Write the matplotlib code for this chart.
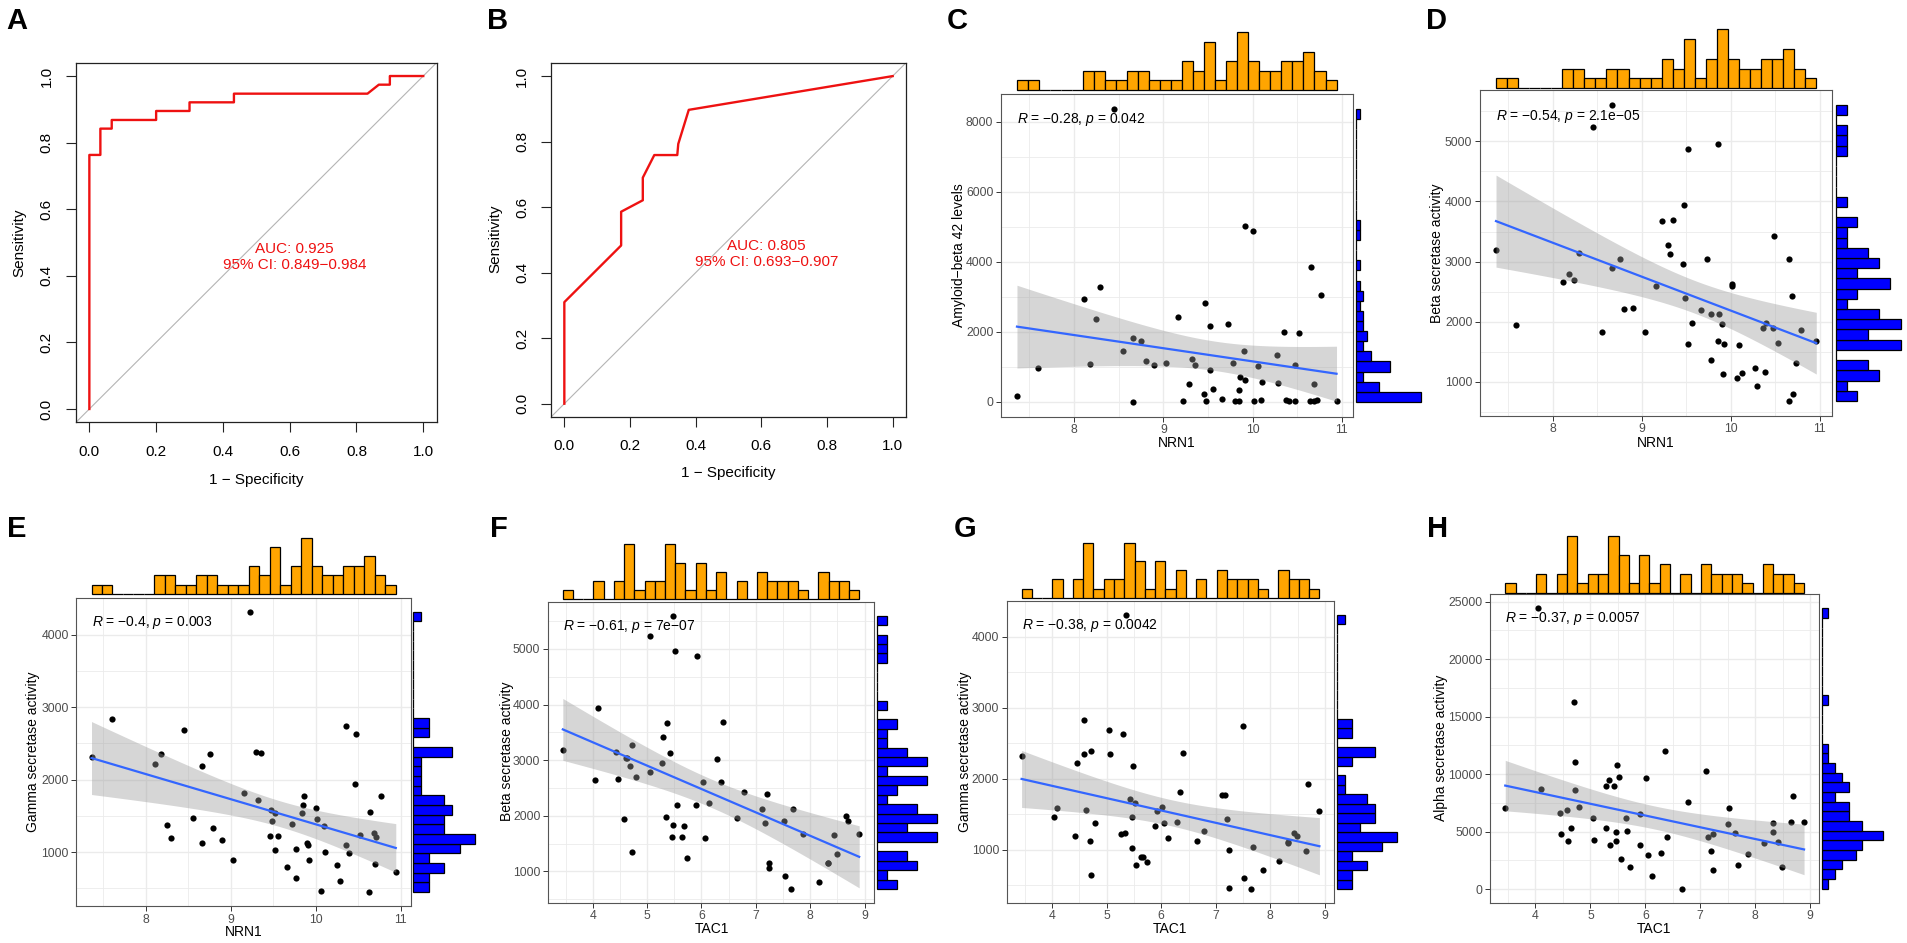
import numpy as np
import matplotlib
matplotlib.use("Agg")
import matplotlib.pyplot as plt
from matplotlib.ticker import MultipleLocator
from matplotlib.transforms import blended_transform_factory

plt.rcParams['font.family'] = ['Liberation Sans', 'DejaVu Sans']
plt.rcParams['mathtext.fontset'] = 'custom'
plt.rcParams['mathtext.rm'] = 'Liberation Sans'
plt.rcParams['mathtext.it'] = 'Liberation Sans:italic'

# ---------------- data ----------------
roc_ticks = [0.0, 0.2, 0.4, 0.6, 0.8, 1.0]
roc_tick_labels = ["0.0", "0.2", "0.4", "0.6", "0.8", "1.0"]

roc_a_fpr = [0.0, 0.0, 0.033, 0.033, 0.067, 0.067, 0.2, 0.2, 0.3, 0.3, 0.433, 0.433, 0.833, 0.867, 0.9, 0.9, 1.0]
roc_a_tpr = [0.0, 0.763, 0.763, 0.842, 0.842, 0.868, 0.868, 0.895, 0.895, 0.921, 0.921, 0.947, 0.947, 0.974, 0.974, 1.0, 1.0]
roc_a_text = "AUC: 0.925\n95% CI: 0.849\u22120.984"

roc_b_fpr = [0.0, 0.0, 0.173, 0.173, 0.239, 0.239, 0.274, 0.344, 0.347, 0.379, 1.0]
roc_b_tpr = [0.0, 0.31, 0.483, 0.586, 0.621, 0.69, 0.759, 0.759, 0.793, 0.897, 1.0]
roc_b_text = "AUC: 0.805\n95% CI: 0.693\u22120.907"

nrn1_c = [7.36, 7.60, 8.11, 8.29, 8.25, 8.18, 8.45, 8.55, 8.66, 8.66, 8.75, 8.80, 8.90, 9.03, 9.16,
          9.22, 9.29, 9.32, 9.35, 9.45, 9.47, 9.48, 9.52, 9.52, 9.56, 9.66, 9.72, 9.78, 9.80, 9.85,
          9.85, 9.86, 9.90, 9.91, 9.92, 10.00, 10.01, 10.06, 10.09, 10.11, 10.28, 10.27, 10.35, 10.37,
          10.41, 10.47, 10.48, 10.52, 10.64, 10.65, 10.69, 10.69, 10.72, 10.77, 10.94]
abeta42_c = [171, 969, 2926, 3278, 2375, 1074, 8380, 1444, 0, 1815, 1729, 1169, 1064, 1112, 2432,
             19, 523, 1226, 1064, 238, 2822, 19, 2157, 922, 380, 76, 2214, 1102, 30, 352,
             19, 703, 1463, 5026, 618, 4884, 19, 1017, 48, 561, 542, 1349, 1986, 48,
             19, 19, 1064, 1967, 19, 3867, 523, 19, 48, 3059, 38]

nrn1_d = [7.36, 7.59, 8.11, 8.18, 8.24, 8.29, 8.45, 8.55, 8.66, 8.66, 8.75, 8.80, 8.90, 9.03, 9.16,
          9.23, 9.29, 9.32, 9.35, 9.46, 9.475, 9.48, 9.52, 9.52, 9.56, 9.66, 9.73, 9.78, 9.78, 9.85,
          9.86, 9.87, 9.90, 9.91, 9.92, 10.01, 10.01, 10.07, 10.095, 10.12, 10.27, 10.29, 10.36, 10.38,
          10.40, 10.47, 10.49, 10.53, 10.65, 10.65, 10.69, 10.70, 10.73, 10.79, 10.96]
beta_d = [3194, 1939, 2656, 2789, 2694, 3150, 5244, 1833, 5606, 2889, 3039, 2206, 2228, 1822, 2594,
          3672, 3283, 3128, 3689, 2961, 3939, 2400, 4872, 1622, 1972, 2200, 3039, 1361, 2122, 1683,
          4961, 2122, 1967, 1139, 1622, 2633, 2600, 1061, 1606, 1156, 1233, 928, 1889, 1161,
          1983, 1889, 3428, 1644, 3039, 683, 2422, 806, 1311, 1861, 1683]

nrn1_e = [7.36, 7.60, 8.11, 8.18, 8.25, 8.29, 8.45, 8.55, 8.66, 8.66, 8.75, 8.79, 8.89, 9.03, 9.16,
          9.22, 9.29, 9.35, 9.32, 9.455, 9.47, 9.48, 9.52, 9.52, 9.55, 9.66, 9.72, 9.77, 9.77, 9.84,
          9.85, 9.86, 9.89, 9.91, 9.92, 10.00, 10.01, 10.06, 10.09, 10.11, 10.25, 10.28, 10.35, 10.36,
          10.39, 10.46, 10.47, 10.52, 10.63, 10.64, 10.68, 10.69, 10.71, 10.77, 10.94]
gamma_e = [2319, 2832, 2218, 2347, 1380, 1197, 2690, 1467, 2182, 1128, 2351, 1339, 1165, 890, 1820,
           4317, 2388, 2365, 1715, 1220, 1586, 1435, 1032, 1541, 1229, 789, 1385, 1046, 643, 1545,
           1655, 1770, 1124, 1101, 895, 1605, 1458, 459, 1366, 1000, 826, 597, 2741, 1105,
           986, 1934, 2631, 1243, 450, 1559, 1266, 835, 1202, 1779, 721]

tac1_f = [3.45, 4.04, 4.09, 4.42, 4.47, 4.58, 4.61, 4.63, 4.69, 4.72, 4.72, 4.79, 5.06, 5.06, 5.27,
          5.29, 5.34, 5.36, 5.43, 5.46, 5.48, 5.48, 5.52, 5.55, 5.64, 5.68, 5.74, 5.90, 5.92, 6.03,
          6.06, 6.13, 6.28, 6.35, 6.40, 6.66, 6.79, 7.11, 7.16, 7.20, 7.25, 7.25, 7.51, 7.53,
          7.65, 7.69, 7.87, 8.17, 8.33, 8.33, 8.44, 8.50, 8.66, 8.69, 8.90]
beta_f = [3192, 2635, 3934, 3150, 2653, 1940, 3036, 3045, 2892, 3281, 1353, 2689, 5240, 2784, 2952,
          3425, 1970, 3671, 3126, 1617, 1826, 5599, 4958, 2198, 1617, 1820, 1234, 2198, 4868, 2605,
          1605, 2228, 3030, 2599, 3683, 1964, 2419, 2120, 1862, 2395, 1150, 1060, 1898, 922,
          683, 2120, 1677, 808, 1150, 1160, 1647, 1311, 1988, 1898, 1677]

tac1_g = [3.44, 4.04, 4.09, 4.42, 4.46, 4.58, 4.59, 4.62, 4.69, 4.71, 4.71, 4.78, 5.05, 5.06, 5.27,
          5.29, 5.33, 5.36, 5.43, 5.46, 5.47, 5.48, 5.52, 5.54, 5.63, 5.67, 5.73, 5.89, 5.92, 6.02,
          6.05, 6.13, 6.28, 6.34, 6.39, 6.66, 6.79, 7.11, 7.16, 7.20, 7.24, 7.24, 7.50, 7.52,
          7.64, 7.69, 7.87, 8.16, 8.32, 8.33, 8.43, 8.49, 8.66, 8.69, 8.90]
gamma_g = [2320, 1454, 1585, 1192, 2217, 2830, 2352, 1552, 1126, 2385, 640, 1379, 2689, 2343, 1215,
           2628, 1229, 4313, 1716, 1028, 1463, 2179, 1660, 785, 897, 888, 822, 1337, 1538, 1599,
           1370, 1164, 1384, 1814, 2362, 1122, 1262, 1767, 1772, 1435, 995, 457, 2736, 593,
           443, 1042, 715, 836, 1105, 1098, 1234, 1197, 981, 1931, 1538]

tac1_h = [3.45, 4.05, 4.10, 4.44, 4.47, 4.58, 4.60, 4.64, 4.70, 4.72, 4.72, 4.79, 5.05, 5.06, 5.28,
          5.29, 5.34, 5.36, 5.43, 5.46, 5.47, 5.48, 5.52, 5.55, 5.64, 5.67, 5.73, 5.90, 5.91, 6.02,
          6.05, 6.13, 6.28, 6.35, 6.39, 6.66, 6.78, 7.10, 7.15, 7.19, 7.24, 7.24, 7.50, 7.53,
          7.64, 7.69, 7.87, 8.16, 8.32, 8.32, 8.42, 8.49, 8.65, 8.69, 8.89]
alpha_h = [7019, 24420, 8701, 6642, 4756, 6903, 4147, 5336, 16270, 8614, 11050, 7106, 6178, 4263, 5278,
           8933, 9484, 3828, 8933, 4959, 4176, 10789, 9716, 2581, 6148, 5046, 1943, 6525, 3857, 9629,
           2987, 1102, 3132, 12007, 4524, 29, 7599, 10296, 4553, 3277, 4756, 1624, 5626, 7048,
           4901, 2059, 3045, 3973, 5742, 4988, 4118, 1914, 5858, 8091, 5858]

stat_c = "$R$ = \u22120.28, $p$ = 0.042"
stat_d = "$R$ = \u22120.54, $p$ = 2.1e\u221205"
stat_e = "$R$ = \u22120.4, $p$ = 0.003"
stat_f = "$R$ = \u22120.61, $p$ = 7e\u221207"
stat_g = "$R$ = \u22120.38, $p$ = 0.0042"
stat_h = "$R$ = \u22120.37, $p$ = 0.0057"

# ---------------- layout helpers ----------------
W, H = 1907, 943
fig = plt.figure(figsize=(W / 100, H / 100), dpi=100)
fig.patch.set_facecolor('white')


def rect(l, t, r, b):
    return [l / W, 1 - b / H, (r - l) / W, (b - t) / H]


def ftext(x, y, s, **kw):
    fig.text(x / W, 1 - y / H, s, **kw)


T_CRIT = 2.007


def roc_panel(box, fpr, tpr, txt, xlab_xy, ylab_xy):
    ax = fig.add_axes(rect(*box))
    ax.axline((0, 0), (1, 1), color='#b4b4b4', lw=0.8, zorder=1)
    ax.plot(fpr, tpr, color='#ee1111', lw=1.7, zorder=2)
    ax.set_xlim(-0.04, 1.04)
    ax.set_ylim(-0.04, 1.04)
    ax.set_xticks(roc_ticks)
    ax.set_xticklabels(roc_tick_labels)
    ax.set_yticks(roc_ticks)
    ax.set_yticklabels(roc_tick_labels, rotation=90, va='center')
    ax.tick_params(direction='out', length=7, width=0.8, pad=9, labelsize=11, color='#222222')
    for sp in ax.spines.values():
        sp.set_linewidth(0.9)
        sp.set_color('#222222')
    ax.text(0.615, 0.456, txt, color='#ee1111', ha='center', va='center', fontsize=11,
            linespacing=1.15)
    ftext(xlab_xy[0], xlab_xy[1], "1 \u2212 Specificity", ha='center', va='center', fontsize=11)
    ftext(ylab_xy[0], ylab_xy[1], "Sensitivity", ha='center', va='center', fontsize=11, rotation=90)


def scatter_panel(main_box, top_box, right_box, xv, yv, stat, xmaj, ymaj,
                  xlabel, xlab_xy, ylabel, ylab_xy):
    x = np.asarray(xv, float)
    y = np.asarray(yv, float)
    axm = fig.add_axes(rect(*main_box))
    axm.scatter(x, y, s=20, color='black', lw=0, zorder=3)
    # linear fit with 95% confidence band
    n = len(x)
    b, a = np.polyfit(x, y, 1)
    xs = np.linspace(x.min(), x.max(), 100)
    yhat = a + b * xs
    resid = y - (a + b * x)
    s = np.sqrt(np.sum(resid ** 2) / (n - 2))
    sxx = np.sum((x - x.mean()) ** 2)
    se = s * np.sqrt(1.0 / n + (xs - x.mean()) ** 2 / sxx)
    lo, hi = yhat - T_CRIT * se, yhat + T_CRIT * se
    axm.fill_between(xs, lo, hi, color='#999999', alpha=0.4, lw=0, zorder=4)
    axm.plot(xs, yhat, color='#3366FF', lw=1.6, zorder=5)
    xr = x.max() - x.min()
    axm.set_xlim(x.min() - 0.05 * xr, x.max() + 0.05 * xr)
    ylo = min(y.min(), lo.min())
    yhi = max(y.max(), hi.max())
    yr = yhi - ylo
    axm.set_ylim(ylo - 0.05 * yr, yhi + 0.05 * yr)
    axm.xaxis.set_major_locator(MultipleLocator(xmaj))
    axm.xaxis.set_minor_locator(MultipleLocator(xmaj / 2))
    axm.yaxis.set_major_locator(MultipleLocator(ymaj))
    axm.yaxis.set_minor_locator(MultipleLocator(ymaj / 2))
    axm.grid(which='major', color='#EBEBEB', lw=1.0)
    axm.grid(which='minor', color='#EBEBEB', lw=0.6)
    axm.set_axisbelow(True)
    axm.tick_params(which='major', length=3.5, width=0.7, color='#333333',
                    labelcolor='#4D4D4D', labelsize=8.8, pad=2)
    axm.tick_params(which='minor', length=0)
    for sp in axm.spines.values():
        sp.set_color('#555555')
        sp.set_linewidth(0.8)
    tr = blended_transform_factory(axm.transData, axm.transAxes)
    axm.text(x.min(), 0.92, stat, transform=tr, ha='left', va='center', fontsize=10, zorder=6)

    # top marginal histogram
    axt = fig.add_axes(rect(*top_box), sharex=axm)
    cnt, _, patches = axt.hist(x, bins=np.linspace(x.min(), x.max(), 30),
                               color='#FFA500', edgecolor='black', lw=0.9)
    for p in patches:
        p.set_clip_on(False)
    axt.set_ylim(0, cnt.max())
    axt.axis('off')

    # right marginal histogram
    axr = fig.add_axes(rect(*right_box), sharey=axm)
    cnt2, _, patches2 = axr.hist(y, bins=np.linspace(y.min(), y.max(), 30),
                                 orientation='horizontal', color='#0000FF',
                                 edgecolor='black', lw=0.9)
    for p in patches2:
        p.set_clip_on(False)
    axr.set_xlim(0, cnt2.max())
    axr.axis('off')

    ftext(xlab_xy[0], xlab_xy[1], xlabel, ha='center', va='center', fontsize=10)
    ftext(ylab_xy[0], ylab_xy[1], ylabel, ha='center', va='center', fontsize=10, rotation=90)


# ---------------- panels ----------------
roc_panel((76, 62.7, 436.6, 422.3), roc_a_fpr, roc_a_tpr, roc_a_text, (256, 480), (19, 242.5))
roc_panel((551.2, 63, 905.8, 416.8), roc_b_fpr, roc_b_tpr, roc_b_text, (728, 473.3), (495, 239))

scatter_panel((1001, 94, 1352.5, 416.5), (1001, 32.3, 1352.5, 90), (1355.7, 94, 1421, 416.5),
              nrn1_c, abeta42_c, stat_c, 1, 2000,
              "NRN1", (1176.7, 443.3), "Amyloid\u2212beta 42 levels", (959, 255))
scatter_panel((1480, 90, 1832.3, 415.8), (1480, 29.3, 1832.3, 88.3), (1835.7, 90, 1900.7, 415.8),
              nrn1_d, beta_d, stat_d, 1, 1000,
              "NRN1", (1656, 443.3), "Beta secretase activity", (1436.7, 253.3))
scatter_panel((76.3, 597.7, 411, 906), (76.3, 537.7, 411, 594), (413, 597.7, 475, 906),
              nrn1_e, gamma_e, stat_e, 1, 1000,
              "NRN1", (243.3, 931.7), "Gamma secretase activity", (33.3, 751.7))
scatter_panel((548, 602, 874, 902.7), (548, 544.3, 874, 599.3), (876.7, 602, 936.7, 902.7),
              tac1_f, beta_f, stat_f, 1, 1000,
              "TAC1", (711.7, 929), "Beta secretase activity", (506.7, 751.7))
scatter_panel((1006.7, 601, 1334.3, 902.7), (1006.7, 543, 1334.3, 597.7), (1337.3, 601, 1397.3, 902.7),
              tac1_g, gamma_g, stat_g, 1, 1000,
              "TAC1", (1170, 929), "Gamma secretase activity", (965, 751.7))
scatter_panel((1490.3, 594.3, 1819, 902.7), (1490.3, 536, 1819, 592.7), (1821.7, 594.3, 1882.7, 902.7),
              tac1_h, alpha_h, stat_h, 1, 5000,
              "TAC1", (1654.3, 929), "Alpha secretase activity", (1440.7, 748.3))

# panel letters
for letter, lx, ly in [("A", 6, 29.3), ("B", 486.7, 29.3), ("C", 947, 29.3), ("D", 1426, 29.3),
                       ("E", 7.3, 536.7), ("F", 490, 536.7), ("G", 954, 536.7), ("H", 1427, 536.7)]:
    ftext(lx, ly, letter, fontsize=21, fontweight='bold', ha='left', va='baseline')

fig.savefig("out.png", dpi=100)
